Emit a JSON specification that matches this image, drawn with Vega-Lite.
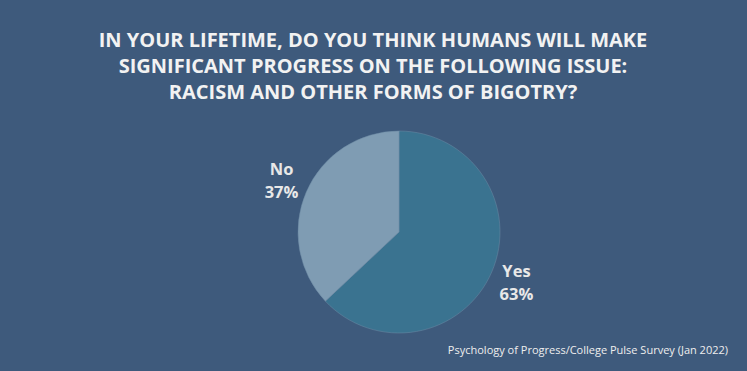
{
  "$schema": "https://vega.github.io/schema/vega-lite/v6.json",
  "width": 202,
  "height": 202,
  "autosize": {"type": "none"},
  "padding": {"left": 298, "top": 131, "right": 247, "bottom": 38},
  "background": "#3e5a7c",
  "title": {
    "text": ["IN YOUR LIFETIME, DO YOU THINK HUMANS WILL MAKE", "SIGNIFICANT PROGRESS ON THE FOLLOWING ISSUE:", "RACISM AND OTHER FORMS OF BIGOTRY?"],
    "font": "Open Sans",
    "fontSize": 20,
    "fontWeight": "bold",
    "color": "#f2f2f2",
    "lineHeight": 26,
    "anchor": "middle",
    "frame": "group",
    "dx": -26,
    "offset": 27
  },
  "data": {"values": [{"answer": "Yes", "pct": 63}, {"answer": "No", "pct": 37}]},
  "layer": [
    {
      "mark": {"type": "arc", "stroke": "#6d8aa5", "strokeWidth": 0.5},
      "encoding": {
        "theta": {"field": "pct", "type": "quantitative", "stack": true},
        "color": {"field": "answer", "type": "nominal", "scale": {"domain": ["Yes", "No"], "range": ["#3a7390", "#7f9cb3"]}, "legend": null},
        "order": {"field": "pct", "sort": "descending"}
      }
    },
    {
      "transform": [{"calculate": "datum.answer + '\\n' + datum.pct + '%'", "as": "label"}],
      "mark": {"type": "text", "radius": 128, "dy": -11, "lineBreak": "\n", "lineHeight": 23, "font": "Open Sans", "fontSize": 16.5, "fontWeight": "bold", "color": "#e8e8e8", "align": "center", "baseline": "middle"},
      "encoding": {
        "theta": {"field": "pct", "type": "quantitative", "stack": true},
        "order": {"field": "pct", "sort": "descending"},
        "text": {"field": "label", "type": "nominal"}
      }
    },
    {
      "data": {"values": [{"source": "Psychology of Progress/College Pulse Survey (Jan 2022)"}]},
      "mark": {"type": "text", "x": {"expr": "width + 228"}, "y": {"expr": "height + 18"}, "align": "right", "baseline": "middle", "font": "Open Sans", "fontSize": 11, "color": "#eeeeee"},
      "encoding": {"text": {"field": "source", "type": "nominal"}}
    }
  ],
  "config": {"view": {"stroke": null}}
}
